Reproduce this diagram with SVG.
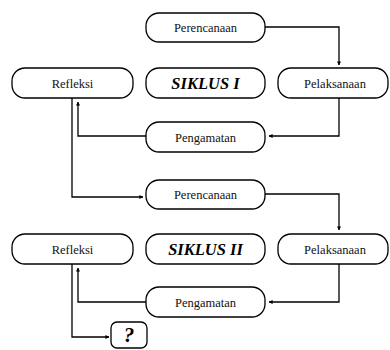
<svg xmlns="http://www.w3.org/2000/svg" width="390" height="350" viewBox="0 0 390 350">
<style>
.box{fill:#fff;stroke:#000;stroke-width:1.3}
.t{font-size:12.5px;text-anchor:middle;fill:#111}
.h{font-size:16.5px;font-weight:bold;font-style:italic;text-anchor:middle;fill:#000}
.c{fill:none;stroke:#000;stroke-width:1.3}
</style>
<defs>
<marker id="ah" viewBox="0 0 10 10" refX="9" refY="5" markerWidth="4" markerHeight="4" orient="auto" markerUnits="userSpaceOnUse">
<path d="M0,0 L10,5 L0,10 z" fill="#000"/>
</marker>
</defs>
<g id="connectors">
<path class="c" d="M265,27 H339 V65" marker-end="url(#ah)"/>
<path class="c" d="M339,98 V136 H269" marker-end="url(#ah)"/>
<path class="c" d="M146,136 H78 V102" marker-end="url(#ah)"/>
<path class="c" d="M72,98 V197 H143" marker-end="url(#ah)"/>
<path class="c" d="M265,194 H339 V230" marker-end="url(#ah)"/>
<path class="c" d="M339,264 V302 H269" marker-end="url(#ah)"/>
<path class="c" d="M146,302 H78 V268" marker-end="url(#ah)"/>
<path class="c" d="M72,264 V337 H109" marker-end="url(#ah)"/>
</g>
<g font-family="Liberation Serif, Times New Roman, serif">
<g id="perencanaan1"><rect class="box" x="146" y="13" width="119" height="29" rx="13"/><text class="t" x="205.5" y="31.5">Perencanaan</text></g>
<g id="refleksi1"><rect class="box" x="12" y="68" width="121" height="30" rx="13"/><text class="t" x="72.5" y="87.5">Refleksi</text></g>
<g id="siklus1"><rect class="box" x="146" y="68" width="119" height="30" rx="13"/><text class="h" x="205.5" y="89">SIKLUS I</text></g>
<g id="pelaksanaan1"><rect class="box" x="278" y="68" width="110" height="30" rx="13"/><text class="t" x="335" y="87.5">Pelaksanaan</text></g>
<g id="pengamatan1"><rect class="box" x="146" y="122" width="119" height="30" rx="13"/><text class="t" x="205.5" y="141.5">Pengamatan</text></g>
<g id="perencanaan2"><rect class="box" x="146" y="180" width="119" height="29" rx="13"/><text class="t" x="205.5" y="198.5">Perencanaan</text></g>
<g id="refleksi2"><rect class="box" x="12" y="234" width="121" height="30" rx="13"/><text class="t" x="72.5" y="253.5">Refleksi</text></g>
<g id="siklus2"><rect class="box" x="146" y="234" width="119" height="30" rx="13"/><text class="h" x="205.5" y="255">SIKLUS II</text></g>
<g id="pelaksanaan2"><rect class="box" x="278" y="234" width="110" height="30" rx="13"/><text class="t" x="335" y="253.5">Pelaksanaan</text></g>
<g id="pengamatan2"><rect class="box" x="146" y="287" width="119" height="30" rx="13"/><text class="t" x="205.5" y="306.5">Pengamatan</text></g>
<g id="question"><rect class="box" x="111" y="322" width="36" height="26" rx="6"/><text class="h" x="129" y="342" style="font-size:21px">?</text></g>
</g>
</svg>
